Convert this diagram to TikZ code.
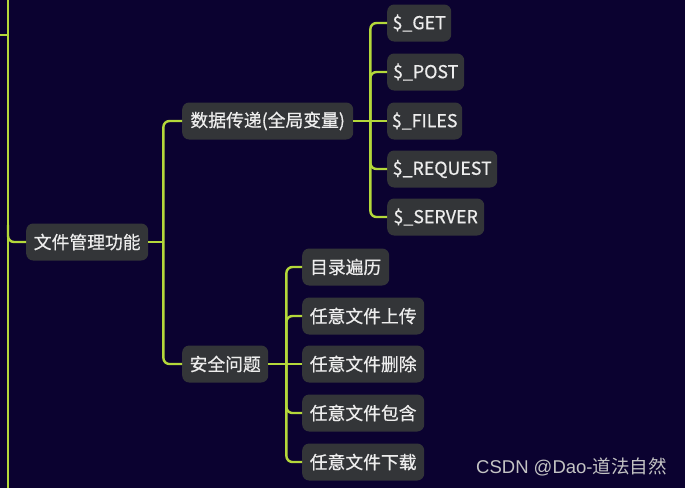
\documentclass[tikz,border=0pt]{standalone}
\usepackage{fontspec}
\setmainfont{Noto Sans CJK SC}
\newfontfamily\nodefont{Noto Sans CJK SC}[FakeBold=0.6]
\newfontfamily\wmfont{Liberation Sans}
\newfontfamily\wmcjk{Noto Sans CJK SC}
\usetikzlibrary{calc}
\definecolor{bgc}{HTML}{0B0230}
\definecolor{boxfill}{HTML}{333538}
\definecolor{txtc}{HTML}{EDEDED}
\definecolor{limec}{HTML}{B4D83A}
\definecolor{markc}{HTML}{C4C4C4}
\begin{document}
\begin{tikzpicture}[x=1pt,y=-1pt,
  topic/.style={anchor=west, fill=boxfill, text=txtc, rounded corners=7pt,
    minimum height=37pt, inner sep=0pt, font=\nodefont\fontsize{17.8}{20}\selectfont},
  conn/.style={draw=limec, line width=2.4pt, rounded corners=6pt}]
\fill[bgc] (0,0) rectangle (685,488);
\useasboundingbox (0,0) rectangle (685,488);

% nodes
\node[topic, minimum width=122pt] (fm) at (26,242) {文件管理功能};
\node[topic, minimum width=171pt] (dt) at (182,121) {数据传递(全局变量)};
\node[topic, minimum width=86pt]  (aq) at (182,364) {安全问题};

\node[topic, minimum width=64pt]  (get) at (387,23)  {\$\_GET};
\node[topic, minimum width=77pt]  (post) at (387,72) {\$\_POST};
\node[topic, minimum width=75pt]  (files) at (387,121) {\$\_FILES};
\node[topic, minimum width=110pt] (req) at (387,169) {\$\_REQUEST};
\node[topic, minimum width=97pt]  (srv) at (387,217) {\$\_SERVER};

\node[topic, minimum width=87pt]  (s1) at (302,267) {目录遍历};
\node[topic, minimum width=122pt] (s2) at (302,316) {任意文件上传};
\node[topic, minimum width=122pt] (s3) at (302,364) {任意文件删除};
\node[topic, minimum width=122pt] (s4) at (302,413) {任意文件包含};
\node[topic, minimum width=122pt] (s5) at (302,462) {任意文件下载};

% root trunk
\coordinate (rtop) at (8,0);
\coordinate (rbot) at (8,488);
\coordinate (pin) at (0,35);
\coordinate (rj) at (8,35);
\coordinate (rfm) at (8,225);
\draw[conn] (rtop) -- (rbot);
\draw[conn] (pin) -- (rj);
\draw[conn] (rfm) |- (fm.west);

% 文件管理功能 children
\coordinate (j1) at ($(fm.east)+(15,0)$);
\draw[conn] (fm.east) -- (j1);
\draw[conn] (j1) |- (dt.west);
\draw[conn] (j1) |- (aq.west);

% 数据传递 children
\coordinate (j2) at ($(dt.east)+(17,0)$);
\draw[conn] (dt.east) -- (files.west);
\foreach \c in {get,post,req,srv}{\draw[conn] (j2) |- (\c.west);}

% 安全问题 children
\coordinate (j3) at ($(aq.east)+(18,0)$);
\draw[conn] (aq.east) -- (s3.west);
\foreach \c in {s1,s2,s4,s5}{\draw[conn] (j3) |- (\c.west);}

% watermark
\node[anchor=west, inner sep=0pt, text=markc, font=\fontsize{18.5}{21}\selectfont] (wm) at (476,467)
  {\wmfont CSDN @Dao-\wmcjk 道法自然};
\end{tikzpicture}
\end{document}
